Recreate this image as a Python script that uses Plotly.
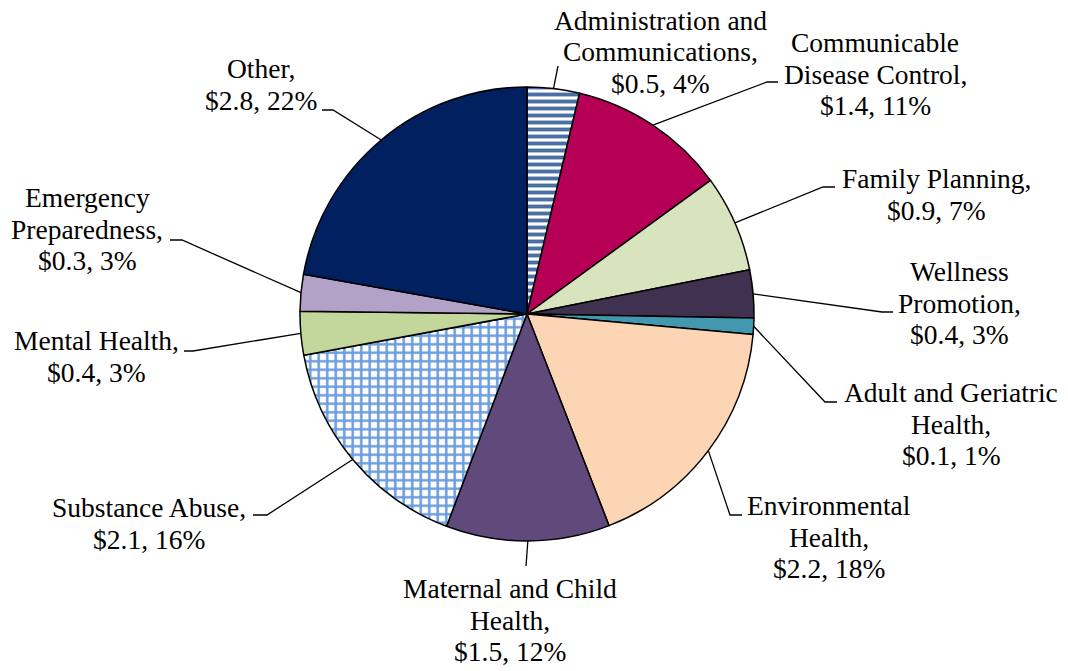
import math
import plotly.graph_objects as go

W, H = 1068, 671

# Budget categories (label wording split the way it is printed)
name_lines = [
    ["Administration and", "Communications"],
    ["Communicable", "Disease Control"],
    ["Family Planning"],
    ["Wellness", "Promotion"],
    ["Adult and Geriatric", "Health"],
    ["Environmental", "Health"],
    ["Maternal and Child", "Health"],
    ["Substance Abuse"],
    ["Mental Health"],
    ["Emergency", "Preparedness"],
    ["Other"],
]
categories = [" ".join(n) for n in name_lines]

# Spending, $ millions
values = [0.47, 1.42, 0.87, 0.43, 0.145, 2.23, 1.47, 2.06, 0.39, 0.33, 2.80]

colors = ["#4A6FA5", "#B50055", "#D7E4BD", "#403151", "#4298AE", "#FCD5B5",
          "#604A7B", "#6A9CDE", "#C3D69B", "#B3A2C7", "#002060"]
# Striped Administration slice, checked Substance Abuse slice
pattern_shapes = ["-", "", "", "", "", "", "", "+", "", "", ""]
pattern_solidity = [0.55, 0.3, 0.3, 0.3, 0.3, 0.3, 0.3, 0.5, 0.3, 0.3, 0.3]
pattern_size = [7, 8, 8, 8, 8, 8, 8, 8.5, 8, 8, 8]

# Pie placement (pixels)
CX, CY, R = 527, 314, 227

# Label placement: centre x, first baseline, and leader-line bend/end points (pixels)
label_cx = [660, 875, 936, 959, 951, 829, 510, 149, 96, 87, 261]
label_base = [29.5, 52, 188, 281, 402, 515, 598, 517, 350, 207, 78]
leader_pts = [
    [(558, 66)],
    [(767, 82), (778, 82)],
    [(823, 187), (835, 187)],
    [(882, 312), (893, 312)],
    [(825, 402), (837, 402)],
    [(730, 515), (742, 515)],
    [(526, 566)],
    [(267, 515), (253, 515)],
    [(193, 351), (184, 351)],
    [(182, 240), (170, 240)],
    [(333, 110), (322, 110)],
]
LINE_GAP = 31.5
FONT = "Liberation Serif"
FSIZE = 27.5


def px(x):
    return x / W


def py(y):
    return 1 - y / H


total = sum(values)
pcts = [100 * v / total for v in values]

fig = go.Figure(
    go.Pie(
        values=values,
        labels=categories,
        sort=False,
        direction="clockwise",
        rotation=0,
        textinfo="none",
        showlegend=False,
        marker=dict(
            colors=colors,
            line=dict(color="black", width=1.5),
            pattern=dict(
                shape=pattern_shapes,
                fgcolor=colors,
                bgcolor="white",
                size=pattern_size,
                solidity=pattern_solidity,
                fillmode="replace",
            ),
        ),
        domain=dict(x=[px(CX - R), px(CX + R)], y=[py(CY + R), py(CY - R)]),
    )
)

shapes = []
annotations = []
cum = 0.0
for i, v in enumerate(values):
    theta = 2 * math.pi * (cum + v / 2) / total
    cum += v
    sx = CX + R * math.sin(theta)
    sy = CY - R * math.cos(theta)
    path = f"M {px(sx)},{py(sy)}"
    for (x, y) in leader_pts[i]:
        path += f" L {px(x)},{py(y)}"
    shapes.append(dict(type="path", path=path, xref="paper", yref="paper",
                       line=dict(color="black", width=1.3)))

    lines = list(name_lines[i])
    lines[-1] = lines[-1] + ","
    lines.append(f"${v:.1f}, {pcts[i]:.0f}%")
    for k, t in enumerate(lines):
        base = label_base[i] + k * LINE_GAP
        annotations.append(dict(
            text=t, x=px(label_cx[i]), y=py(base - 9.2),
            xref="paper", yref="paper", xanchor="center", yanchor="middle",
            showarrow=False, font=dict(family=FONT, size=FSIZE, color="black"),
        ))

fig.update_layout(
    width=W, height=H,
    margin=dict(l=0, r=0, t=0, b=0),
    paper_bgcolor="white",
    plot_bgcolor="white",
    shapes=shapes,
    annotations=annotations,
)

fig.write_html("out.html")
